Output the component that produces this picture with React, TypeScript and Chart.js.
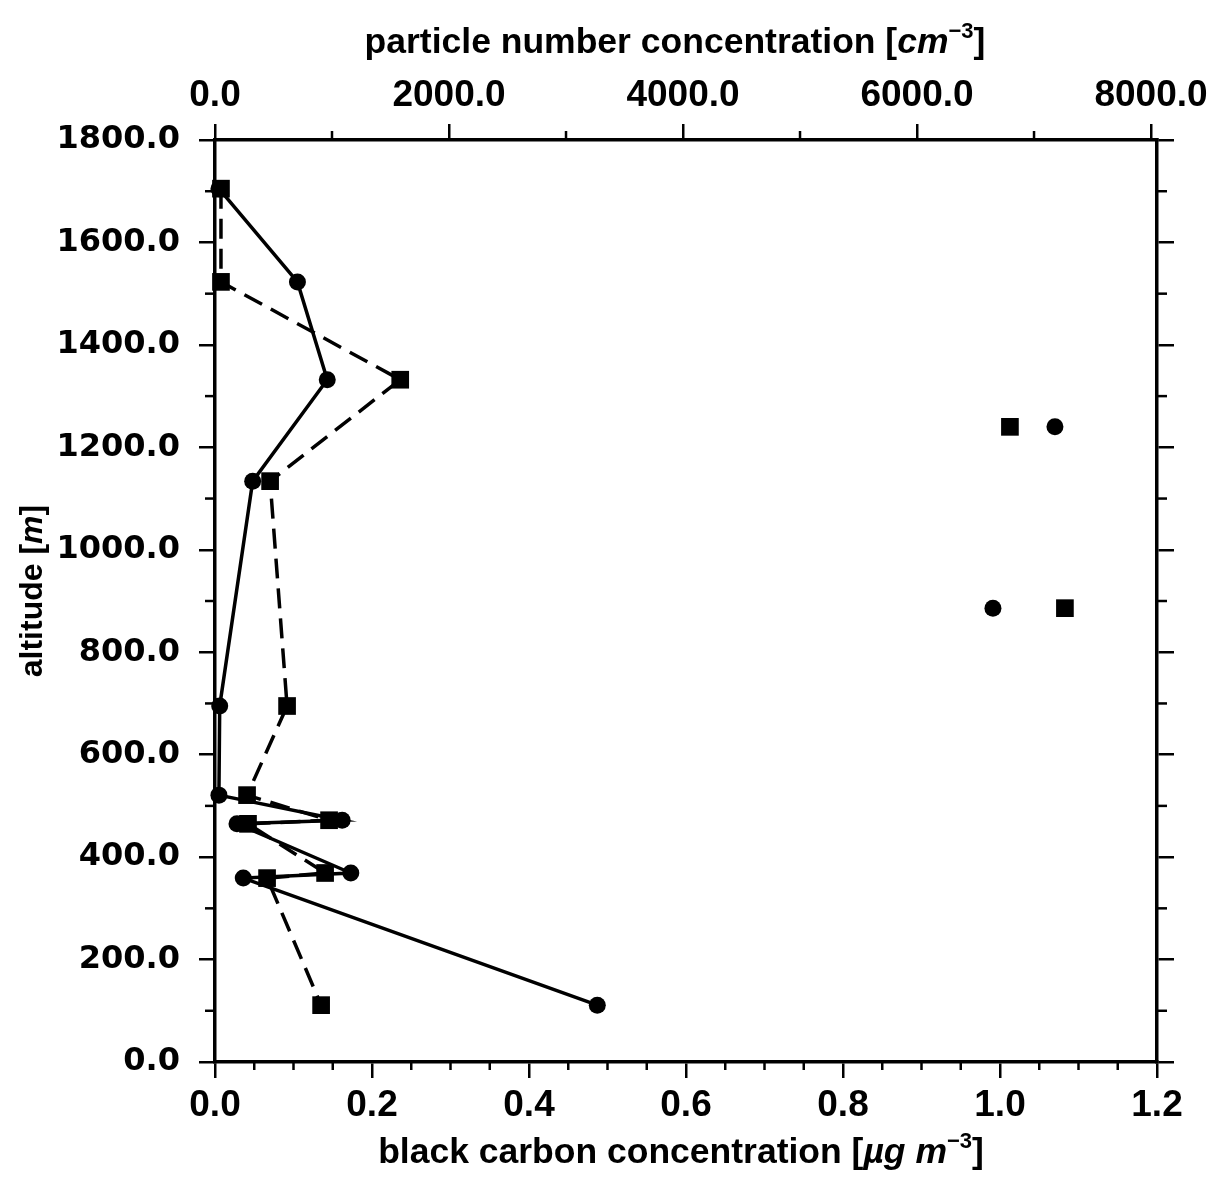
import React, { useEffect, useRef } from 'react';
import { Chart, registerables } from 'chart.js';

Chart.register(...registerables);

// Profile measured at shared altitudes [m]
const altitudes = [1705, 1523, 1332, 1134, 695, 521, 472, 465, 369, 359, 111];
// black carbon concentration [µg m^-3] (bottom axis, circles, solid line)
const blackCarbon = [0.005, 0.105, 0.143, 0.048, 0.006, 0.005, 0.162, 0.028, 0.173, 0.036, 0.487];
// particle number concentration [cm^-3] (top axis, squares, dashed line)
const particleNumber = [51, 51, 1583, 471, 616, 274, 975, 282, 941, 445, 907];

// separate (unconnected) measurements
const isolatedAltitudes = [1240, 886];
const isolatedBlackCarbon = [1.07, 0.991];
const isolatedParticleNumber = [6794, 7264];

// tick values
const particleTicks = [0, 2000, 4000, 6000, 8000];

const W = 1211;
const H = 1178;

const TICK_FONT = { family: "'Liberation Sans', Arial, sans-serif", size: 37, weight: 'bold' as const };
const Y_TICK_FONT = { family: "'DejaVu Sans', sans-serif", size: 32, weight: 'bold' as const };
const TITLE_SIZE = 35.5;
const Y_TITLE_SIZE = 32;

type Part = { t: string; italic?: boolean; sup?: boolean };

function drawRich(ctx: CanvasRenderingContext2D, parts: Part[], size: number) {
  const fontFor = (p: Part) =>
    `${p.italic ? 'italic ' : ''}bold ${p.sup ? Math.round(size * 0.62) : size}px 'Liberation Sans', Arial, sans-serif`;
  let total = 0;
  for (const p of parts) {
    ctx.font = fontFor(p);
    total += ctx.measureText(p.t).width;
  }
  let x = -total / 2;
  for (const p of parts) {
    ctx.font = fontFor(p);
    ctx.fillText(p.t, x, p.sup ? -size * 0.42 : 0);
    x += ctx.measureText(p.t).width;
  }
}

const titlesPlugin = {
  id: 'richTitles',
  afterDraw(chart: any) {
    const { ctx, chartArea } = chart;
    ctx.save();
    ctx.fillStyle = '#000';
    ctx.textBaseline = 'alphabetic';
    ctx.textAlign = 'left';
    const cx = (chartArea.left + chartArea.right) / 2;
    // top
    ctx.save();
    ctx.translate(cx - 11, chartArea.top - 87);
    drawRich(ctx, [
      { t: 'particle number concentration [' },
      { t: 'cm', italic: true },
      { t: '\u22123', sup: true },
      { t: ']' },
    ], TITLE_SIZE);
    ctx.restore();
    // bottom
    ctx.save();
    ctx.translate(cx - 5, chartArea.bottom + 101);
    drawRich(ctx, [
      { t: 'black carbon concentration [' },
      { t: '\u00b5g m', italic: true },
      { t: '\u22123', sup: true },
      { t: ']' },
    ], TITLE_SIZE);
    ctx.restore();
    // left
    ctx.save();
    ctx.translate(chartArea.left - 173, (chartArea.top + chartArea.bottom) / 2 - 10);
    ctx.rotate(-Math.PI / 2);
    drawRich(ctx, [
      { t: 'altitude [' },
      { t: 'm', italic: true },
      { t: ']' },
    ], Y_TITLE_SIZE);
    ctx.restore();
    ctx.restore();
  },
};

const minorTicksPlugin = {
  id: 'minorTicks',
  afterDraw(chart: any) {
    const ctx = chart.ctx;
    const defs = [
      { id: 'x', step: 0.05, major: 0.2, len: 8, last: 1.2 },
      { id: 'x2', step: 1000, major: 2000, len: 9, last: 8000 },
      { id: 'y', step: 100, major: 200, len: 10, last: 1800 },
      { id: 'y2', step: 100, major: 200, len: 10, last: 1800 },
    ];
    ctx.save();
    ctx.strokeStyle = '#000';
    ctx.lineWidth = 2.5;
    for (const d of defs) {
      const s = chart.scales[d.id];
      const n = Math.round((d.last - s.min) / d.step);
      for (let i = 0; i <= n; i++) {
        const v = s.min + i * d.step;
        const r = v / d.major;
        if (Math.abs(r - Math.round(r)) < 1e-6) continue;
        const p = s.getPixelForValue(v);
        ctx.beginPath();
        if (s.position === 'bottom') {
          ctx.moveTo(p, s.top);
          ctx.lineTo(p, s.top + d.len);
        } else if (s.position === 'top') {
          ctx.moveTo(p, s.bottom);
          ctx.lineTo(p, s.bottom - d.len);
        } else if (s.position === 'left') {
          ctx.moveTo(s.right, p);
          ctx.lineTo(s.right - d.len, p);
        } else {
          ctx.moveTo(s.left, p);
          ctx.lineTo(s.left + d.len, p);
        }
        ctx.stroke();
      }
    }
    ctx.restore();
  },
};

const fmt1 = (v: any) => Number(v).toFixed(1);

export default function App() {
  const ref = useRef<HTMLCanvasElement | null>(null);

  useEffect(() => {
    document.body.style.margin = '0';
    document.body.style.overflow = 'hidden';
    const canvas = ref.current;
    if (!canvas) return;

    const bcPoints = altitudes.map((a, i) => ({ x: blackCarbon[i], y: a }));
    const pnPoints = altitudes.map((a, i) => ({ x: particleNumber[i], y: a }));
    const bcIso = isolatedAltitudes.map((a, i) => ({ x: isolatedBlackCarbon[i], y: a }));
    const pnIso = isolatedAltitudes.map((a, i) => ({ x: isolatedParticleNumber[i], y: a }));

    const border = { display: true, color: '#000', width: 3.5 };
    const grid = (len: number) => ({
      display: true,
      drawOnChartArea: false,
      drawTicks: true,
      tickLength: len,
      color: '#000',
      lineWidth: 2.5,
      tickWidth: 2.5,
      tickColor: '#000',
    });

    const chart = new Chart(canvas, {
      type: 'scatter',
      data: {
        datasets: [
          {
            label: 'particle number concentration',
            data: pnPoints,
            xAxisID: 'x2',
            yAxisID: 'y',
            showLine: true,
            borderColor: '#000',
            backgroundColor: '#000',
            borderWidth: 3.5,
            borderDash: [20, 10],
            pointStyle: 'rect',
            pointRadius: 12.5,
            pointHoverRadius: 12.5,
            pointBorderWidth: 0,
            tension: 0,
            clip: false as any,
          },
          {
            label: 'black carbon concentration',
            data: bcPoints,
            xAxisID: 'x',
            yAxisID: 'y',
            showLine: true,
            borderColor: '#000',
            backgroundColor: '#000',
            borderWidth: 3.5,
            pointStyle: 'circle',
            pointRadius: 8.5,
            pointHoverRadius: 8.5,
            pointBorderWidth: 0,
            tension: 0,
            clip: false as any,
          },
          {
            label: 'particle number (separate)',
            data: pnIso,
            xAxisID: 'x2',
            yAxisID: 'y',
            showLine: false,
            backgroundColor: '#000',
            borderColor: '#000',
            pointStyle: 'rect',
            pointRadius: 12.5,
            pointBorderWidth: 0,
          },
          {
            label: 'black carbon (separate)',
            data: bcIso,
            xAxisID: 'x',
            yAxisID: 'y',
            showLine: false,
            backgroundColor: '#000',
            borderColor: '#000',
            pointStyle: 'circle',
            pointRadius: 8.5,
            pointBorderWidth: 0,
          },
        ],
      },
      options: {
        responsive: false,
        animation: false,
        devicePixelRatio: 1,
        layout: { padding: 0 },
        plugins: {
          legend: { display: false },
          tooltip: { enabled: false },
          title: { display: false },
        },
        scales: {
          x: {
            type: 'linear',
            position: 'bottom',
            min: 0,
            max: 1.2,
            border,
            grid: grid(16),
            ticks: { stepSize: 0.2, callback: fmt1, color: '#000', font: TICK_FONT, padding: 6, maxRotation: 0 },
            afterFit: (s: any) => {
              s.height = H - 1062;
              s.paddingLeft = 0;
              s.paddingRight = 0;
            },
          },
          x2: {
            type: 'linear',
            position: 'top',
            min: 0,
            max: 8051,
            border,
            grid: grid(16),
            ticks: { callback: fmt1, color: '#000', font: TICK_FONT, padding: 6, maxRotation: 0, autoSkip: false },
            afterBuildTicks: (s: any) => {
              s.ticks = particleTicks.map((v) => ({ value: v }));
            },
            afterFit: (s: any) => {
              s.height = 140;
              s.paddingLeft = 0;
              s.paddingRight = 0;
            },
          },
          y: {
            type: 'linear',
            position: 'left',
            min: 0,
            max: 1800,
            border,
            grid: grid(16),
            ticks: { stepSize: 200, callback: fmt1, color: '#000', font: Y_TICK_FONT, padding: 19 },
            afterFit: (s: any) => {
              s.width = 215;
              s.paddingTop = 0;
              s.paddingBottom = 0;
            },
          },
          y2: {
            type: 'linear',
            position: 'right',
            min: 0,
            max: 1800,
            border,
            grid: grid(17),
            ticks: { stepSize: 200, display: false },
            afterFit: (s: any) => {
              s.width = W - 1157;
            },
          },
        },
      } as any,
      plugins: [minorTicksPlugin, titlesPlugin],
    });

    return () => chart.destroy();
  }, []);

  return (
    <div style={{ width: W, height: H }}>
      <canvas ref={ref} width={W} height={H} style={{ display: 'block', width: W, height: H }} />
    </div>
  );
}
